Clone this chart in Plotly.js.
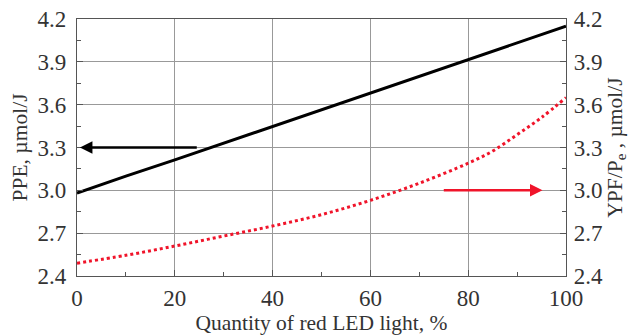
<!DOCTYPE html>
<html><head><meta charset="utf-8">
<script src="https://cdn.plot.ly/plotly-3.0.1.min.js"></script>
<style>body{margin:0;background:#fff}#c{width:638px;height:336px}</style>
</head><body><div id="c"></div>
<script>
const xPPE = [0, 10, 20, 30, 40, 50, 60, 70, 80, 90, 100];
const ppe = [2.98, 3.10, 3.213, 3.33, 3.447, 3.565, 3.685, 3.80, 3.917, 4.035, 4.15];
const xYpf = [0, 10, 20, 30, 40, 50, 60, 70, 80, 85, 90, 95, 100];
const ypf = [2.49, 2.545, 2.61, 2.68, 2.75, 2.83, 2.93, 3.05, 3.19, 3.275, 3.39, 3.51, 3.65];
const xTicks = [0, 20, 40, 60, 80, 100];
const yTicks = [2.4, 2.7, 3.0, 3.3, 3.6, 3.9, 4.2];
const yTickText = ['2.4', '2.7', '3.0', '3.3', '3.6', '3.9', '4.2'];

const fam = 'Liberation Serif, Times New Roman, serif';
const font = {family: fam, size: 23, color: '#333'};
const titleFont = {family: fam, size: 21.5, color: '#333'};
const axisCommon = {
  showline: true, linecolor: '#555', linewidth: 1.2, zeroline: false,
  ticks: 'inside', ticklen: 6, tickcolor: '#555',
  tickfont: font
};
const data = [
  {x: xPPE, y: ppe, mode: 'lines', line: {color: '#000', width: 3}, yaxis: 'y', showlegend: false},
  {x: xYpf, y: ypf, mode: 'lines', line: {color: '#f0142a', width: 3, dash: 'dot', shape: 'spline'}, yaxis: 'y2', showlegend: false}
];
const layout = {
  width: 638, height: 336,
  margin: {l: 77, r: 72, t: 19, b: 60},
  paper_bgcolor: '#fff', plot_bgcolor: '#fff',
  font: font,
  xaxis: Object.assign({}, axisCommon, {
    range: [0, 100], tickvals: xTicks, showgrid: true, gridcolor: '#999', gridwidth: 1,
    mirror: true, ticklabelstandoff: 1,
    minor: {dtick: 10, ticks: 'inside', ticklen: 4, tickcolor: '#555', showgrid: false},
    title: {text: 'Quantity of red LED light, %', font: titleFont, standoff: 2}
  }),
  yaxis: Object.assign({}, axisCommon, {
    range: [2.4, 4.2], tickvals: yTicks, ticktext: yTickText, showgrid: true, gridcolor: '#999', gridwidth: 1,
    mirror: false, ticklabelstandoff: 5,
    minor: {dtick: 0.15, ticks: 'inside', ticklen: 4, tickcolor: '#555', showgrid: false},
    title: {text: 'PPE, µmol/J', font: titleFont, standoff: 4}
  }),
  yaxis2: Object.assign({}, axisCommon, {
    range: [2.4, 4.2], tickvals: yTicks, ticktext: yTickText, showgrid: false,
    overlaying: 'y', side: 'right', ticklabelstandoff: 2,
    minor: {dtick: 0.15, ticks: 'inside', ticklen: 4, tickcolor: '#555', showgrid: false},
    title: {text: 'YPF/P<sub>e</sub> , µmol/J', font: titleFont, standoff: 3}
  }),
  annotations: [
    {x: 0.6, y: 3.3, ax: 24.8, ay: 3.3, xref: 'x', yref: 'y', axref: 'x', ayref: 'y',
     showarrow: true, arrowhead: 2, arrowsize: 1, arrowwidth: 2.5, arrowcolor: '#000', text: ''},
    {x: 95.2, y: 3.0, ax: 74.7, ay: 3.0, xref: 'x', yref: 'y', axref: 'x', ayref: 'y',
     showarrow: true, arrowhead: 2, arrowsize: 1, arrowwidth: 2.5, arrowcolor: '#f0142a', text: ''}
  ]
};
Plotly.newPlot('c', data, layout, {displayModeBar: false, staticPlot: true});
</script></body></html>
